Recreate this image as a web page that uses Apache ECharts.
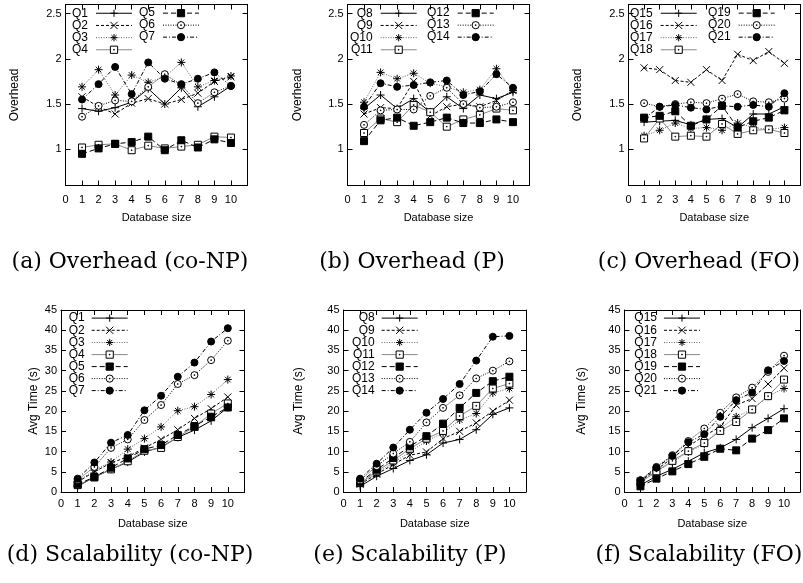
<!DOCTYPE html>
<html><head><meta charset="utf-8">
<script src="https://cdn.jsdelivr.net/npm/echarts@6/dist/echarts.min.js"></script>
<style>html,body{margin:0;padding:0;background:#fff}#c{width:803px;height:583px}</style>
</head><body><div id="c"></div>
<script>
// ---------- data ----------
const xs = [1, 2, 3, 4, 5, 6, 7, 8, 9, 10];
const overheadTicks = [1, 1.5, 2, 2.5];

const ovQ1 = [1.45, 1.42, 1.46, 1.52, 1.67, 1.50, 1.68, 1.47, 1.58, 1.70];
const ovQ2 = [1.58, 1.47, 1.39, 1.51, 1.56, 1.50, 1.55, 1.62, 1.75, 1.80];
const ovQ3 = [1.69, 1.88, 1.60, 1.82, 1.74, 1.80, 1.96, 1.69, 1.76, 1.81];
const ovQ4 = [1.02, 1.05, 1.06, 0.99, 1.04, 1.01, 1.03, 1.05, 1.14, 1.13];
const ovQ5 = [0.95, 1.01, 1.06, 1.08, 1.14, 0.99, 1.10, 1.02, 1.11, 1.07];
const ovQ6 = [1.36, 1.48, 1.54, 1.53, 1.69, 1.83, 1.71, 1.51, 1.63, 1.70];
const ovQ7 = [1.55, 1.72, 1.91, 1.61, 1.96, 1.78, 1.72, 1.78, 1.85, 1.70];

const ovQ8  = [1.45, 1.60, 1.45, 1.56, 1.41, 1.58, 1.45, 1.60, 1.56, 1.63];
const ovQ9  = [1.39, 1.46, 1.45, 1.75, 1.37, 1.47, 1.50, 1.47, 1.54, 1.65];
const ovQ10 = [1.52, 1.85, 1.78, 1.84, 1.73, 1.69, 1.63, 1.66, 1.89, 1.65];
const ovQ11 = [1.18, 1.34, 1.30, 1.49, 1.41, 1.25, 1.33, 1.38, 1.45, 1.43];
const ovQ12 = [1.09, 1.32, 1.35, 1.26, 1.30, 1.35, 1.29, 1.29, 1.33, 1.30];
const ovQ13 = [1.27, 1.43, 1.44, 1.44, 1.59, 1.68, 1.50, 1.46, 1.47, 1.52];
const ovQ14 = [1.47, 1.73, 1.69, 1.71, 1.74, 1.76, 1.60, 1.64, 1.83, 1.68];

const ovQ15 = [1.30, 1.31, 1.32, 1.27, 1.33, 1.34, 1.24, 1.39, 1.39, 1.47];
const ovQ16 = [1.90, 1.88, 1.76, 1.74, 1.88, 1.76, 2.05, 1.98, 2.08, 1.95];
const ovQ17 = [1.15, 1.21, 1.29, 1.23, 1.24, 1.21, 1.29, 1.24, 1.22, 1.24];
const ovQ18 = [1.12, 1.34, 1.14, 1.15, 1.14, 1.28, 1.17, 1.21, 1.22, 1.18];
const ovQ19 = [1.35, 1.37, 1.42, 1.26, 1.33, 1.48, 1.24, 1.31, 1.35, 1.43];
const ovQ20 = [1.51, 1.47, 1.50, 1.52, 1.51, 1.56, 1.61, 1.53, 1.52, 1.56];
const ovQ21 = [1.34, 1.47, 1.49, 1.46, 1.44, 1.48, 1.47, 1.49, 1.47, 1.62];

const scQ1 = [1.4, 3.7, 5.6, 7.4, 9.9, 11.1, 13.5, 15.3, 17.6, 20.9];
const scQ2 = [2.5, 5.0, 7.2, 8.7, 10.9, 13.0, 15.4, 18.2, 20.6, 23.5];
const scQ3 = [2.6, 5.4, 7.4, 10.6, 13.2, 16.1, 20.1, 21.1, 24.1, 27.8];
const scQ4 = [1.7, 3.6, 5.6, 7.6, 10.2, 10.9, 13.6, 16.1, 19.4, 21.9];
const scQ5 = [1.9, 3.7, 6.0, 8.3, 10.6, 11.6, 14.1, 16.3, 18.6, 20.9];
const scQ6 = [3.0, 6.2, 10.9, 13.0, 17.8, 21.5, 26.7, 28.9, 32.6, 37.4];
const scQ7 = [3.3, 7.3, 12.2, 14.1, 20.2, 23.8, 28.5, 32.0, 37.2, 40.5];

const scQ8  = [1.4, 3.9, 5.8, 7.8, 9.2, 12.1, 13.0, 15.4, 19.2, 20.8];
const scQ9  = [1.9, 4.4, 6.8, 9.1, 9.9, 13.2, 15.0, 17.1, 20.0, 22.7];
const scQ10 = [2.1, 4.7, 7.3, 9.9, 12.6, 14.6, 17.8, 19.4, 24.5, 25.6];
const scQ11 = [2.2, 5.1, 7.8, 10.7, 13.2, 15.1, 18.8, 21.3, 25.6, 26.8];
const scQ12 = [2.5, 5.5, 8.4, 11.3, 13.8, 16.9, 20.8, 24.5, 27.4, 28.5];
const scQ13 = [2.9, 6.4, 9.5, 12.4, 17.2, 20.8, 23.9, 28.1, 30.0, 32.3];
const scQ14 = [3.3, 7.0, 11.0, 15.4, 19.6, 23.0, 26.7, 32.5, 38.4, 38.6];

const scQ15 = [1.7, 3.9, 5.6, 7.6, 9.7, 10.9, 13.0, 15.9, 18.2, 20.6];
const scQ16 = [2.7, 5.5, 8.4, 11.3, 13.9, 16.1, 21.5, 23.1, 26.7, 30.6];
const scQ17 = [2.3, 5.0, 7.4, 9.9, 11.8, 15.7, 18.6, 20.4, 23.7, 25.6];
const scQ18 = [2.5, 5.1, 7.7, 10.1, 12.1, 15.1, 17.3, 20.4, 23.7, 27.8];
const scQ19 = [1.4, 3.3, 5.1, 6.9, 8.7, 10.7, 10.3, 13.2, 15.3, 18.2];
const scQ20 = [2.9, 6.2, 9.1, 12.6, 15.7, 19.6, 23.4, 25.8, 29.7, 33.7];
const scQ21 = [2.9, 6.0, 8.9, 12.3, 14.3, 18.6, 22.7, 24.6, 30.1, 32.4];

const namesA = ['Q1', 'Q2', 'Q3', 'Q4', 'Q5', 'Q6', 'Q7'];
const namesB = ['Q8', 'Q9', 'Q10', 'Q11', 'Q12', 'Q13', 'Q14'];
const namesC = ['Q15', 'Q16', 'Q17', 'Q18', 'Q19', 'Q20', 'Q21'];

const captions = ['(a) Overhead (co-NP)', '(b) Overhead (P)', '(c) Overhead (FO)',
                  '(d) Scalability (co-NP)', '(e) Scalability (P)', '(f) Scalability (FO)'];

const panelValues = [
  [ovQ1, ovQ2, ovQ3, ovQ4, ovQ5, ovQ6, ovQ7],
  [ovQ8, ovQ9, ovQ10, ovQ11, ovQ12, ovQ13, ovQ14],
  [ovQ15, ovQ16, ovQ17, ovQ18, ovQ19, ovQ20, ovQ21],
  [scQ1, scQ2, scQ3, scQ4, scQ5, scQ6, scQ7],
  [scQ8, scQ9, scQ10, scQ11, scQ12, scQ13, scQ14],
  [scQ15, scQ16, scQ17, scQ18, scQ19, scQ20, scQ21]
];
const panelNames = [namesA, namesB, namesC, namesA, namesB, namesC];

// ---------- layout & styles ----------
const SANS = '"Liberation Sans", Arial, Helvetica, sans-serif';
const SERIF = '"DejaVu Serif", serif';
const grids = [
  {left: 65.5, top: 4.5, width: 182, height: 181},
  {left: 347.5, top: 4.5, width: 182, height: 181},
  {left: 628.5, top: 4.5, width: 182, height: 181},
  {left: 61, top: 310, width: 183.5, height: 182},
  {left: 343.5, top: 310, width: 182.5, height: 182},
  {left: 624.5, top: 310, width: 183.5, height: 182}
];
const yNameGap = [44.5, 43.5, 44.5, 21.5, 38.7, 36.6];
const captionPos = [[130, 262], [412, 262], [699, 262], [130, 555], [410, 555], [699, 555]];

const DOT = 'M4.5,4.5L5.5,4.5L5.5,5.5L4.5,5.5Z';
const styles = [
  {symbol: 'path://M0,5L10,5M5,0L5,10', size: 8, fill: 'none', lc: '#000', lt: 'solid'},
  {symbol: 'path://M0,0L10,10M10,0L0,10', size: 7, fill: 'none', lc: '#000', lt: [3, 2]},
  {symbol: 'path://M0,5L10,5M5,0L5,10M1.5,1.5L8.5,8.5M8.5,1.5L1.5,8.5', size: 8, fill: 'none', lc: '#666', lt: [1, 1.5]},
  {symbol: 'path://M0,0L10,0L10,10L0,10Z' + DOT, size: 7, fill: '#fff', lc: '#888', lt: 'solid'},
  {symbol: 'rect', size: 7, fill: '#000', lc: '#000', lt: [5, 3]},
  {symbol: 'path://M0,5A5,5,0,1,0,10,5A5,5,0,1,0,0,5Z' + DOT, size: 7, fill: '#fff', lc: '#000', lt: [1, 1.5]},
  {symbol: 'circle', size: 7, fill: '#000', lc: '#000', lt: [4, 2, 1, 2]}
];

const xAxes = [], yAxes = [], series = [], legends = [], graphics = [];
const axisLineStyle = {show: true, onZero: false, lineStyle: {color: '#000', width: 1}};
const tickStyle = {show: true, inside: true, length: 5, lineStyle: {color: '#000', width: 1}};

grids.forEach((g, i) => {
  const top = i < 3;
  xAxes.push({
    gridIndex: i, type: 'value', min: 0, max: 11, interval: 1,
    axisLine: axisLineStyle, axisTick: tickStyle, splitLine: {show: false},
    axisLabel: {margin: top ? 8.5 : 6.2, fontSize: 11, fontFamily: SANS, color: '#000',
      formatter: v => (v <= 10 ? String(v) : '')},
    name: 'Database size', nameLocation: 'middle', nameGap: top ? 27 : 26,
    nameTextStyle: {fontSize: 11, fontFamily: SANS, color: '#000'}
  });
  xAxes.push({
    gridIndex: i, type: 'value', position: 'top', min: 0, max: 11, interval: 1,
    axisLine: axisLineStyle, axisTick: tickStyle, splitLine: {show: false}, axisLabel: {show: false}
  });
  const yBase = top
    ? {min: 0.6, max: 2.6}
    : {min: 0, max: 45, interval: 5};
  const tk = top ? Object.assign({}, tickStyle, {customValues: overheadTicks}) : tickStyle;
  yAxes.push(Object.assign({
    gridIndex: i, type: 'value', axisLine: axisLineStyle, axisTick: tk, splitLine: {show: false},
    axisLabel: Object.assign({margin: 4, fontSize: 11, fontFamily: SANS, color: '#000'},
      top ? {customValues: overheadTicks} : {}),
    name: top ? 'Overhead' : 'Avg Time (s)', nameLocation: 'middle', nameGap: yNameGap[i],
    nameTextStyle: {fontSize: 12, fontFamily: SANS, color: '#000'}
  }, yBase));
  yAxes.push(Object.assign({
    gridIndex: i, type: 'value', position: 'right', axisLine: axisLineStyle, axisTick: tk,
    splitLine: {show: false}, axisLabel: {show: false}
  }, yBase));

  panelValues[i].forEach((vals, k) => {
    const s = styles[k];
    series.push({
      type: 'line', name: panelNames[i][k], xAxisIndex: 2 * i, yAxisIndex: 2 * i,
      data: xs.map((x, j) => [x, vals[j]]),
      symbol: s.symbol, symbolSize: s.size, symbolKeepAspect: true,
      itemStyle: {color: s.fill, borderColor: '#000', borderWidth: 1},
      lineStyle: {color: s.lc, width: 1, type: s.lt},
      emphasis: {disabled: true}, z: 2 + k
    });
  });

  graphics.push({
    type: 'text', x: captionPos[i][0], y: captionPos[i][1],
    style: {text: captions[i], font: '22px ' + SERIF, fill: '#000',
      align: 'center', verticalAlign: 'middle', textAlign: 'center', textVerticalAlign: 'middle'}
  });
});

function legend(names, left, top, rowH, padR) {
  return {
    orient: 'vertical', left: left, top: top, padding: 0, itemGap: 0,
    itemWidth: 36, itemHeight: 9, align: 'right', selectedMode: false,
    data: names, formatter: '{t|{name}}',
    itemStyle: {borderWidth: 1}, lineStyle: {width: 1},
    textStyle: {rich: {t: {width: 22, align: 'right', padding: [0, padR, 0, 0],
      fontSize: 12, lineHeight: rowH, fontFamily: SANS, color: '#000'}}}
  };
}
legends.push(legend(namesA.slice(0, 4), 66, 7.15, 12.3, 3));
legends.push(legend(namesA.slice(4), 133, 7.15, 12.3, 3));
legends.push(legend(namesB.slice(0, 4), 350, 7.15, 12.3, 3));
legends.push(legend(namesB.slice(4), 427, 7.15, 12.3, 3));
legends.push(legend(namesC.slice(0, 4), 630, 7.15, 12.3, 3));
legends.push(legend(namesC.slice(4), 708, 7.15, 12.3, 3));
legends.push(legend(namesA, 62.7, 312, 12.6, 2));
legends.push(legend(namesB, 352, 312, 12.6, 2));
legends.push(legend(namesC, 634.3, 312, 12.6, 2));

const chart = echarts.init(document.getElementById('c'), null, {renderer: 'canvas'});
chart.setOption({
  animation: false, backgroundColor: '#fff',
  grid: grids, xAxis: xAxes, yAxis: yAxes, series: series, legend: legends, graphic: graphics
});
</script></body></html>
